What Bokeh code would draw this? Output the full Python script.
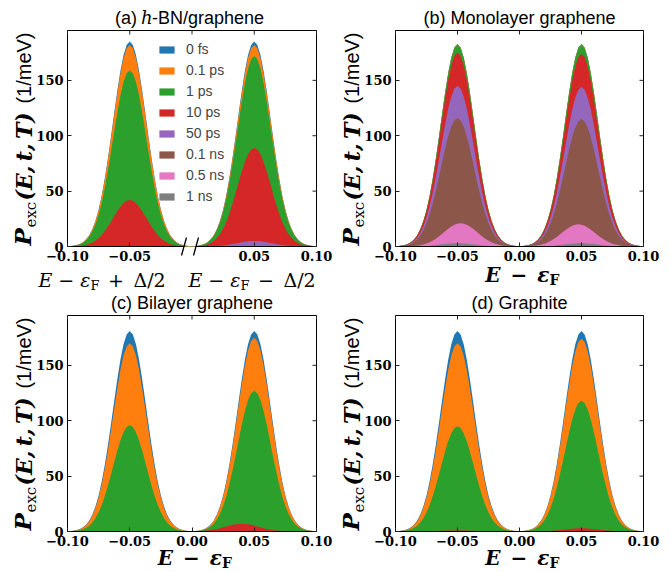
import numpy as np
from math import pi
from bokeh.plotting import figure
from bokeh.layouts import column, row
from bokeh.models import (Range1d, FixedTicker, Label, Legend, LegendItem,
                          CustomJSTickFormatter)
from bokeh.embed import file_html
from bokeh.resources import INLINE

# ---------------- data ----------------
SERIES = ["0 fs", "0.1 ps", "1 ps", "10 ps", "50 ps", "0.1 ns", "0.5 ns", "1 ns"]
COLORS = ["#1f77b4", "#ff7f0e", "#2ca02c", "#d62728", "#9467bd", "#8c564b", "#e377c2", "#7f7f7f"]

# energy samples (E - eF), step 0.0025
E_MIN, E_MAX, E_STEP = -0.1, 0.1, 0.0025
# peak shape: fraction of peak height at 0, 0.0025, 0.005 ... 0.05 from the centre
PROFILE = [1.0, 0.983, 0.934, 0.857, 0.760, 0.651, 0.539, 0.432, 0.334, 0.249, 0.180,
           0.126, 0.085, 0.055, 0.035, 0.021, 0.012, 0.007, 0.004, 0.002, 0.001]

# peak heights (1/meV) per series, left peak / right peak
HBN_LEFT = [185, 182, 159, 42, 0, 0, 0, 0]
HBN_RIGHT = [185, 182, 172, 89, 5, 0, 0, 0]
MONO_LEFT = [183, 182.5, 182, 175, 145, 116, 21, 3]
MONO_RIGHT = [183, 182.5, 182, 174, 144, 115, 20, 3]
BI_LEFT = [181, 170, 96, 0, 0, 0, 0, 0]
BI_RIGHT = [181, 175, 127, 7, 0, 0, 0, 0]
GRAPHITE_LEFT = [181, 170, 95, 1, 0, 0, 0, 0]
GRAPHITE_RIGHT = [181, 174, 118, 3, 0, 0, 0, 0]

# peak centres per series
CENTER_LEFT = [-0.05, -0.05, -0.05, -0.05, -0.05, -0.05, -0.05, -0.05]
CENTER_RIGHT = [0.05, 0.05, 0.05, 0.05, 0.05, 0.05, 0.05, 0.05]
MONO_CENTER_LEFT = [-0.05, -0.05, -0.05, -0.05, -0.05, -0.05, -0.0475, -0.05]
MONO_CENTER_RIGHT = [0.05, 0.05, 0.05, 0.05, 0.05, 0.05, 0.0475, 0.05]
BI_CENTER_RIGHT = [0.05, 0.05, 0.05, 0.04, 0.05, 0.05, 0.05, 0.05]

XTICKS = [-0.1, -0.05, 0.0, 0.05, 0.1]
XTICK_LABELS = ["\u22120.10", "\u22120.05", "0.00", "0.05", "0.10"]
XTICKS_BROKEN = [-0.1, -0.05, 0.05, 0.1]
YTICKS = [0, 50, 100, 150]
YTICK_LABELS = ["0", "50", "100", "150"]
Y_MAX = 195

TITLES = ["(b) Monolayer graphene", "(c) Bilayer graphene", "(d) Graphite"]
LEGEND_TEXT = SERIES

E = np.round(np.linspace(E_MIN, E_MAX, int(round((E_MAX - E_MIN) / E_STEP)) + 1), 6)
PROF = np.asarray(PROFILE)


def peak_curve(amp, center):
    idx = np.rint(np.abs(E - center) / E_STEP).astype(int)
    out = np.zeros_like(E)
    m = idx < len(PROF)
    out[m] = amp * PROF[idx[m]]
    return out


SANS = "Liberation Sans"
SERIF = "DejaVu Serif"
TICK_COL = "#222222"


def fmt(tick_values, tick_labels):
    return CustomJSTickFormatter(args=dict(tv=tick_values, tl=tick_labels), code="""
        for (let i = 0; i < tv.length; i++) {
            if (Math.abs(tv[i] - tick) < 1e-9) { return tl[i]; }
        }
        return '';
    """)


def lbl(p, x, y, text, xo=0, yo=0, size=18, font=SANS, style="normal",
        align="left", angle=0.0):
    # xo, yo: desired baseline position offsets in px; compensate the renderer's
    # baseline drop (about a third of the font size)
    shift = round(size * 0.33)
    if angle:
        xo = xo - shift
    else:
        yo = yo + shift
    p.add_layout(Label(x=x, y=y, x_offset=xo, y_offset=yo, text=text, text_font=font,
                       text_font_size=f"{size}px", text_font_style=style, text_align=align,
                       text_baseline="alphabetic", angle=angle, text_color="black"))


def make_panel(W, H, L, R, T, B, left, right, cl, cr, xticks, broken=False):
    """W,H canvas size; L,R,T,B pixel edges of the axes box inside the canvas."""
    sx = (E_MAX - E_MIN) / (R - L)
    sy = Y_MAX / (B - T)
    p = figure(width=W, height=H,
               x_range=Range1d(E_MIN - L * sx, E_MAX + (W - R) * sx),
               y_range=Range1d(-(H - B) * sy, Y_MAX + T * sy),
               output_backend="svg", toolbar_location=None, title=None,
               min_border_left=0, min_border_right=0, min_border_top=0,
               min_border_bottom=0)
    p.grid.visible = False
    p.outline_line_color = None
    p.background_fill_color = "white"
    p.border_fill_color = "white"
    renderers = []
    for i in range(len(SERIES)):
        ys = peak_curve(left[i], cl[i]) + peak_curve(right[i], cr[i])
        r = p.varea(x=E, y1=np.zeros_like(E), y2=ys, fill_color=COLORS[i], fill_alpha=1.0)
        renderers.append(r)

    # axes placed on the box edges
    p.xaxis.fixed_location = 0
    p.xaxis.bounds = (E_MIN, E_MAX)
    p.yaxis.fixed_location = E_MIN
    p.yaxis.bounds = (0, Y_MAX)
    for ax in (p.xaxis, p.yaxis):
        ax.major_tick_in = 4
        ax.major_tick_out = 0
        ax.minor_tick_in = 0
        ax.minor_tick_out = 0
        ax.major_tick_line_color = TICK_COL
        ax.axis_line_color = None
        ax.major_label_text_font = SERIF
        ax.major_label_text_font_style = "bold"
        ax.major_label_text_font_size = "13px"
        ax.major_label_text_color = "black"
        ax.major_label_standoff = 4
    p.xaxis.ticker = FixedTicker(ticks=xticks)
    p.xaxis.formatter = fmt(XTICKS, XTICK_LABELS)
    p.yaxis.ticker = FixedTicker(ticks=YTICKS)
    p.yaxis.formatter = fmt(YTICKS, YTICK_LABELS)

    # box spines
    if broken:
        g0, g1 = -8 * sx, 4 * sx
        bx0, bx1 = [E_MIN, g1], [g0, E_MAX]
    else:
        bx0, bx1 = [E_MIN], [E_MAX]
    p.segment(x0=[E_MIN, E_MAX, E_MIN] + bx0, y0=[0, 0, Y_MAX] + [0] * len(bx0),
              x1=[E_MIN, E_MAX, E_MAX] + bx1, y1=[Y_MAX, Y_MAX, Y_MAX] + [0] * len(bx0),
              line_color="black", line_width=1)
    # inward ticks on top and right
    p.segment(x0=XTICKS, y0=[Y_MAX] * len(XTICKS), x1=XTICKS,
              y1=[Y_MAX - 4 * sy] * len(XTICKS), line_color=TICK_COL, line_width=1)
    p.segment(x0=[E_MAX] * len(YTICKS), y0=YTICKS, x1=[E_MAX - 4 * sx] * len(YTICKS),
              y1=YTICKS, line_color=TICK_COL, line_width=1)
    if broken:
        cs = [g0, g1]
        p.segment(x0=[c - 2.5 * sx for c in cs], y0=[-9 * sy] * 2,
                  x1=[c + 2.5 * sx for c in cs], y1=[9 * sy] * 2,
                  line_color="black", line_width=1.3)

    # rotated y label: P_exc(E, t, T) (1/meV)
    ang = pi / 2
    fh = B - T
    lbl(p, E_MIN, 0, "P", xo=-37, yo=1, size=23, font=SERIF, style="bold italic", angle=ang)
    lbl(p, E_MIN, 0, "exc", xo=-32, yo=19, size=15, font=SERIF, angle=ang)
    lbl(p, E_MIN, 0, "(E,\u2009t,\u2009T)", xo=-37, yo=46, size=22, font=SERIF,
        style="bold italic", angle=ang)
    lbl(p, E_MIN, 0, "(1/meV)", xo=-37, yo=fh - 2, size=20, font=SANS,
        align="right", angle=ang)
    return p, renderers


def x_label_bold(p, below):
    # E - eps_F, centred under the box
    lbl(p, 0.0, 0, "E\u2002\u2212\u2002\u03b5", xo=30, yo=-below, size=20, font=SERIF,
        style="bold italic", align="right")
    lbl(p, 0.0, 0, "F", xo=30, yo=-below - 3, size=14, font=SERIF, style="bold")


def title(p, text):
    lbl(p, 0.0, Y_MAX, text, yo=7, size=18, font=SANS, align="center")


# ---------------- panels ----------------
pa, ra = make_panel(336, 294, 67, 316, 30, 246, HBN_LEFT, HBN_RIGHT,
                    CENTER_LEFT, CENTER_RIGHT, XTICKS_BROKEN, broken=True)
pb, _ = make_panel(335, 294, 59, 307, 30, 246, MONO_LEFT, MONO_RIGHT,
                   MONO_CENTER_LEFT, MONO_CENTER_RIGHT, XTICKS)
pc, _ = make_panel(336, 278, 67, 316, 21, 237, BI_LEFT, BI_RIGHT,
                   CENTER_LEFT, BI_CENTER_RIGHT, XTICKS)
pd, _ = make_panel(335, 278, 59, 307, 21, 237, GRAPHITE_LEFT, GRAPHITE_RIGHT,
                   CENTER_LEFT, CENTER_RIGHT, XTICKS)

# panel (a) title with italic h
lbl(pa, 0.0, Y_MAX, "(a)", xo=-55, yo=7, size=18, font=SANS, align="right")
lbl(pa, 0.0, Y_MAX, "h", xo=-51, yo=7, size=18, font=SERIF, style="italic")
lbl(pa, 0.0, Y_MAX, "-BN/graphene", xo=-40, yo=7, size=18, font=SANS)

title(pb, TITLES[0])
title(pc, TITLES[1])
title(pd, TITLES[2])

# panel (a) x labels
lbl(pa, E_MIN, 0, "E \u2212 \u03b5", xo=23, yo=-39, size=19, font=SERIF,
    style="italic", align="right")
lbl(pa, E_MIN, 0, "F", xo=23, yo=-43, size=13, font=SERIF)
lbl(pa, E_MIN, 0, "\u2002+\u2002\u0394/2", xo=31, yo=-39, size=19, font=SERIF)
lbl(pa, E_MIN, 0, "E \u2212 \u03b5", xo=173, yo=-39, size=19, font=SERIF,
    style="italic", align="right")
lbl(pa, E_MIN, 0, "F", xo=173, yo=-43, size=13, font=SERIF)
lbl(pa, E_MIN, 0, "\u2002\u2212\u2002\u0394/2", xo=181, yo=-39, size=19, font=SERIF)

x_label_bold(pb, 35)
x_label_bold(pc, 33)
x_label_bold(pd, 33)

# legend in panel (a)
legend = Legend(items=[LegendItem(label=LEGEND_TEXT[i], renderers=[ra[i]]) for i in range(len(SERIES))],
                location=(157, 90), padding=0, margin=0, spacing=5,
                glyph_width=19, glyph_height=9, label_height=9, label_standoff=10,
                label_text_font=SANS, label_text_font_size="14px",
                background_fill_alpha=0, border_line_alpha=0)
pa.add_layout(legend)

layout = column(row(pa, pb), row(pc, pd))
open("out.html", "w").write(file_html(layout, INLINE))
